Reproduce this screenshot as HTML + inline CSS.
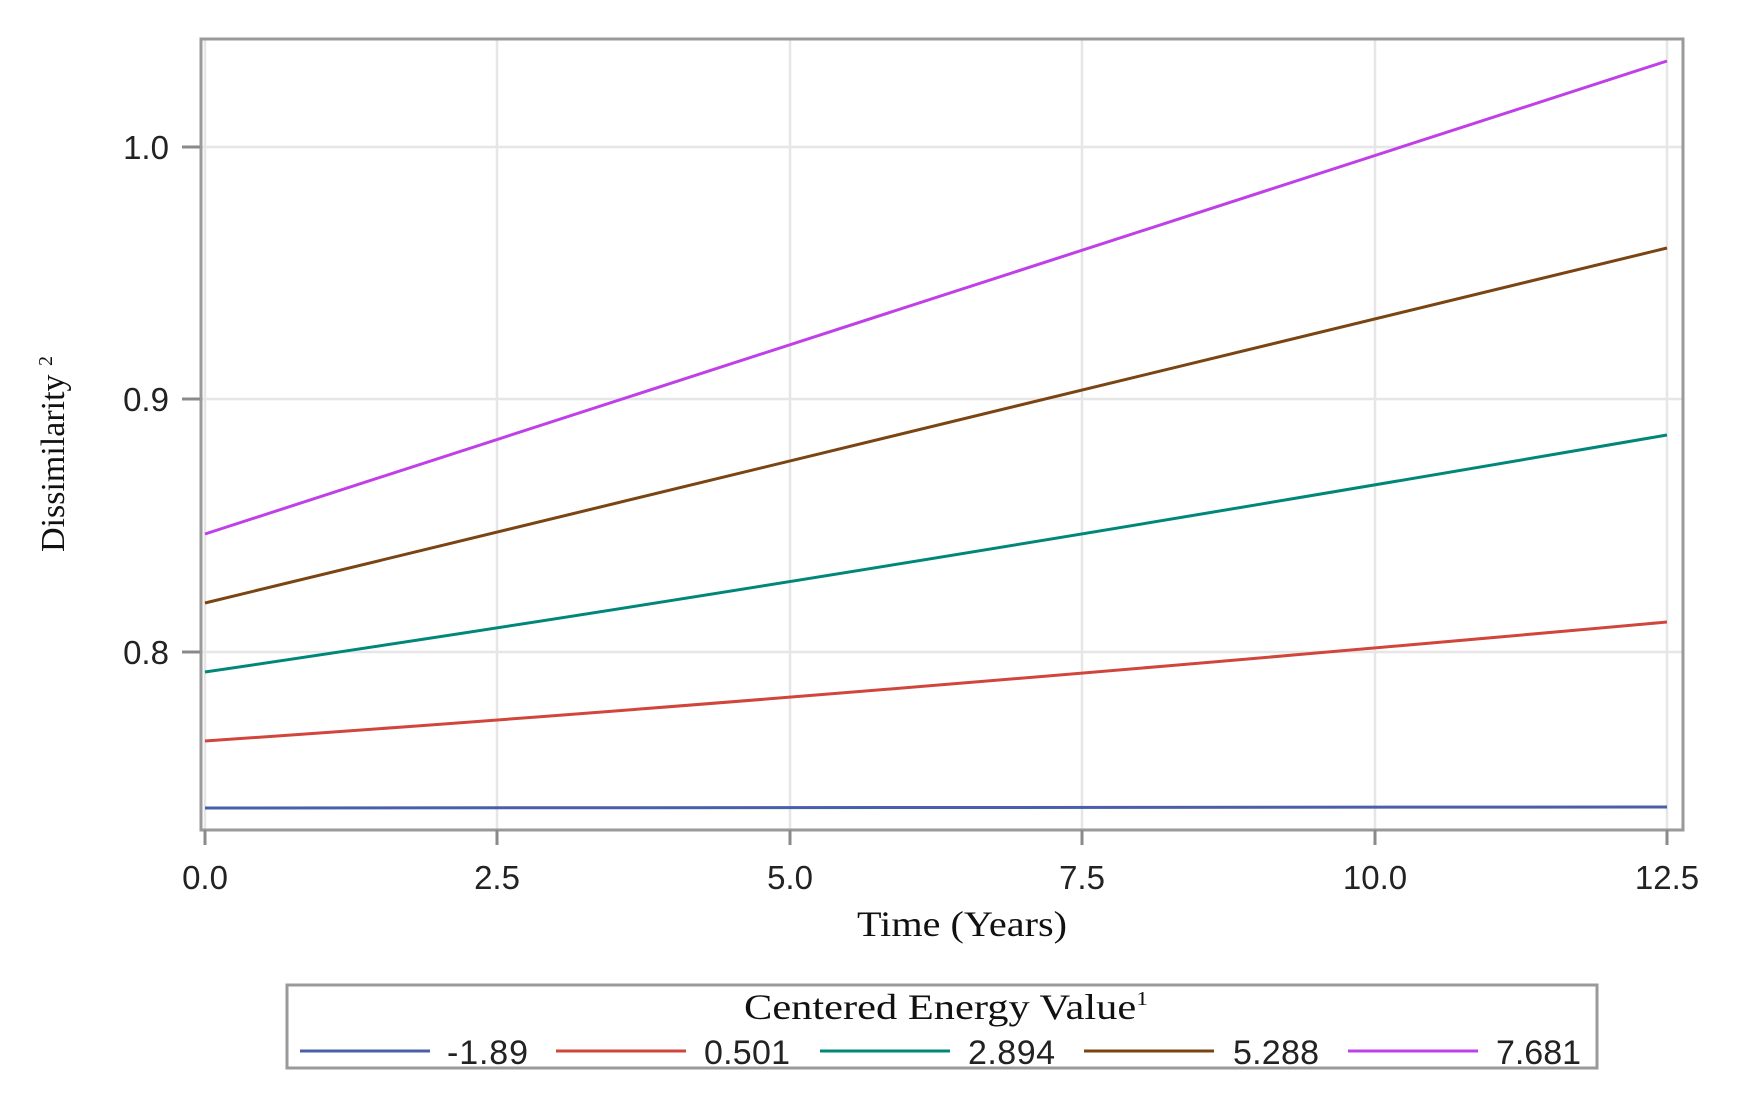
<!DOCTYPE html>
<html><head><meta charset="utf-8"><style>html,body{margin:0;padding:0;background:#fff}</style></head>
<body>
<svg width="1737" height="1113" viewBox="0 0 1737 1113" xmlns="http://www.w3.org/2000/svg">
<rect width="1737" height="1113" fill="#fff"/>
<g stroke="#e6e6e6" stroke-width="2.5">
<line x1="205" y1="40" x2="205" y2="830"/>
<line x1="497" y1="40" x2="497" y2="830"/>
<line x1="790" y1="40" x2="790" y2="830"/>
<line x1="1082" y1="40" x2="1082" y2="830"/>
<line x1="1375" y1="40" x2="1375" y2="830"/>
<line x1="1667" y1="40" x2="1667" y2="830"/>
<line x1="201" y1="147" x2="1683" y2="147"/>
<line x1="201" y1="399" x2="1683" y2="399"/>
<line x1="201" y1="652" x2="1683" y2="652"/>
</g>
<g fill="none" stroke-width="3">
<path d="M205 808 L1667 807" stroke="#4a5fa8"/>
<path d="M205 741 Q790 701 1667 622" stroke="#d0453c"/>
<path d="M205 672 Q790 586 1667 435" stroke="#00877a"/>
<path d="M205 603 L1667 248" stroke="#7a4413"/>
<path d="M205 534 L1667 61" stroke="#c040e8"/>
</g>
<rect x="201" y="39" width="1482" height="791" fill="none" stroke="#9a9a9a" stroke-width="3"/>
<g stroke="#8a8a8a" stroke-width="3">
<line x1="205" y1="830" x2="205" y2="845"/><line x1="497" y1="830" x2="497" y2="845"/>
<line x1="790" y1="830" x2="790" y2="845"/><line x1="1082" y1="830" x2="1082" y2="845"/>
<line x1="1375" y1="830" x2="1375" y2="845"/><line x1="1667" y1="830" x2="1667" y2="845"/>
<line x1="182" y1="147" x2="200" y2="147"/><line x1="182" y1="399" x2="200" y2="399"/><line x1="182" y1="652" x2="200" y2="652"/>
</g>
<g font-family="Liberation Sans, sans-serif" font-size="33" fill="#222" text-anchor="middle">
<text x="205" y="889">0.0</text><text x="497" y="889">2.5</text><text x="790" y="889">5.0</text>
<text x="1082" y="889">7.5</text><text x="1375" y="889">10.0</text><text x="1667" y="889">12.5</text>
<text x="146" y="159">1.0</text><text x="146" y="411">0.9</text><text x="146" y="664">0.8</text>
</g>
<text x="962" y="936" font-family="Liberation Serif, serif" font-size="36" text-anchor="middle" textLength="210" lengthAdjust="spacingAndGlyphs" fill="#111">Time (Years)</text>
<text transform="translate(64,552) rotate(-90)" font-family="Liberation Serif, serif" font-size="34" fill="#111">Dissimilarity <tspan font-size="20" dy="-12">2</tspan></text>
<rect x="287" y="985" width="1310" height="83" fill="#fff" stroke="#9a9a9a" stroke-width="3"/>
<text x="744" y="1019" font-family="Liberation Serif, serif" font-size="36" fill="#111" textLength="404" lengthAdjust="spacingAndGlyphs">Centered Energy Value<tspan font-size="20" dy="-14">1</tspan></text>
<g stroke-width="3">
<line x1="300" y1="1051" x2="430" y2="1051" stroke="#4a5fa8"/>
<line x1="556" y1="1051" x2="686" y2="1051" stroke="#d0453c"/>
<line x1="820" y1="1051" x2="950" y2="1051" stroke="#00877a"/>
<line x1="1084" y1="1051" x2="1214" y2="1051" stroke="#7a4413"/>
<line x1="1348" y1="1051" x2="1478" y2="1051" stroke="#c040e8"/>
</g>
<g font-family="Liberation Sans, sans-serif" font-size="34" fill="#222" lengthAdjust="spacingAndGlyphs">
<text x="447" y="1064" textLength="81">-1.89</text><text x="704" y="1064" textLength="86">0.501</text><text x="968" y="1064" textLength="87">2.894</text>
<text x="1233" y="1064" textLength="86">5.288</text><text x="1496" y="1064" textLength="85">7.681</text>
</g>
<!-- end -->
</svg>
</body></html>
